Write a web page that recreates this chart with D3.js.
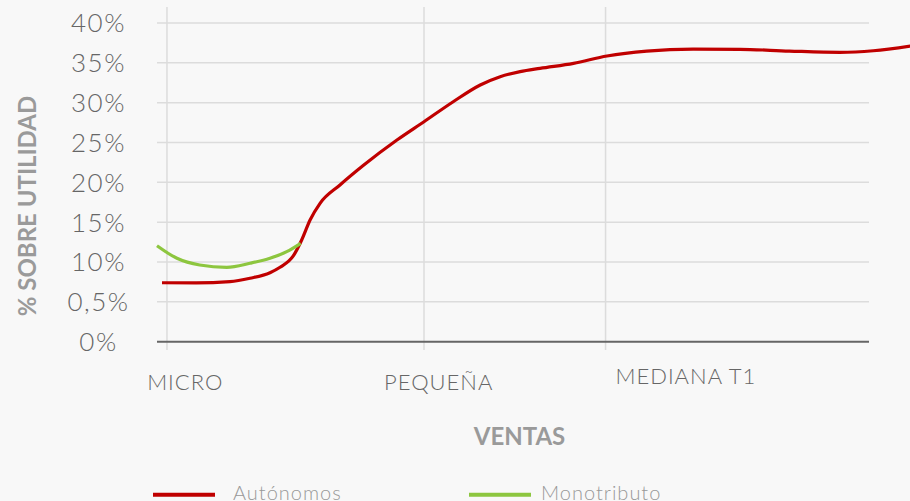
<!DOCTYPE html>
<html>
<head>
<meta charset="utf-8">
<script src="https://cdn.jsdelivr.net/npm/d3@7"></script>
<style>
  body { margin: 0; background: #f8f8f8; }
  svg { display: block; font-family: Lato, "Open Sans", sans-serif; }
  .tick-label { fill: #666; font-weight: 300; }
  .axis-title { fill: #9a9a9a; font-weight: 700; }
  .legend-label { fill: #999; font-weight: 300; }
</style>
</head>
<body>
<svg id="chart" width="910" height="501"></svg>
<script>
// y ticks (label "0,5%" is how the original reads)
const yTicks = [0, 5, 10, 15, 20, 25, 30, 35, 40];
const yTickLabels = ["0%", "0,5%", "10%", "15%", "20%", "25%", "30%", "35%", "40%"];

// x categories: gridline position and label position on the ventas scale (0-100)
const categories = ["MICRO", "PEQUEÑA", "MEDIANA T1"];
const categoryX = [1.4, 37.5, 63];
const categoryLabelX = [3.9, 39.5, 74.2];

// Autónomos
const autonomosX = [0.7, 5.5, 10.25, 13.06, 15.87, 17.28, 19.14, 20.32, 21.5, 22.9, 25.7, 29.0, 33.7, 37.5, 41.6, 45.4, 48.2, 51.0, 53.8, 58.5, 63.2, 68.8, 75.3, 81.9, 88.8, 95.9, 100.6, 105.8];
const autonomosY = [7.40, 7.38, 7.53, 7.96, 8.66, 9.34, 10.76, 12.76, 15.27, 17.37, 19.67, 22.14, 25.31, 27.61, 30.12, 32.22, 33.26, 33.89, 34.31, 34.94, 35.86, 36.48, 36.73, 36.70, 36.48, 36.32, 36.52, 37.11];

// Monotributo
const monoX = [0, 2.8, 6.0, 9.8, 13.06, 15.87, 18.22, 20.18];
const monoY = [12.05, 10.47, 9.63, 9.34, 9.84, 10.47, 11.30, 12.35];

const seriesNames = ["Autónomos", "Monotributo"];
const seriesColors = ["#c00000", "#8dc63f"];

const svg = d3.select("#chart");
const plotLeft = 157, plotRight = 869, plotTop = 23, plotBottom = 341.7;

const x = d3.scaleLinear().domain([0, 100]).range([plotLeft, plotRight]);
const y = d3.scaleLinear().domain([0, 40]).range([plotBottom, plotTop]);

// horizontal grid
svg.append("g").selectAll("line").data(yTicks.slice(1)).join("line")
  .attr("x1", plotLeft).attr("x2", plotRight)
  .attr("y1", d => y(d)).attr("y2", d => y(d))
  .attr("stroke", "#dcdcdc").attr("stroke-width", 1.5);

// vertical grid
svg.append("g").selectAll("line").data(categoryX).join("line")
  .attr("x1", d => x(d)).attr("x2", d => x(d))
  .attr("y1", 7).attr("y2", 350)
  .attr("stroke", "#dcdcdc").attr("stroke-width", 1.5);

// baseline
svg.append("line")
  .attr("x1", plotLeft).attr("x2", plotRight)
  .attr("y1", y(0)).attr("y2", y(0))
  .attr("stroke", "#666").attr("stroke-width", 2);

// y tick labels
svg.append("g").selectAll("text").data(yTicks).join("text")
  .attr("class", "tick-label")
  .attr("x", 98.5).attr("y", d => y(d))
  .attr("dy", "0.36em")
  .attr("text-anchor", "middle")
  .style("font-size", "26px")
  .style("letter-spacing", "1.5px")
  .text((d, i) => yTickLabels[i]);

// x category labels
svg.append("g").selectAll("text").data(categories).join("text")
  .attr("class", "tick-label")
  .attr("x", (d, i) => x(categoryLabelX[i]) + 0.5)
  .attr("y", (d, i) => i === 2 ? 383.5 : 389.5)
  .attr("text-anchor", "middle")
  .style("font-size", "22px")
  .style("letter-spacing", "1px")
  .text(d => d);

// axis titles
svg.append("text").attr("class", "axis-title")
  .attr("transform", "translate(27,206) rotate(-90)")
  .attr("text-anchor", "middle").attr("dy", "0.36em")
  .style("font-size", "24px")
  .text("% SOBRE UTILIDAD");

svg.append("text").attr("class", "axis-title")
  .attr("x", 519.5).attr("y", 445)
  .attr("text-anchor", "middle")
  .style("font-size", "24px")
  .text("VENTAS");

// lines
const line = d3.line()
  .x(d => x(d[0]))
  .y(d => y(d[1]))
  .curve(d3.curveMonotoneX);

const lineData = [
  d3.zip(autonomosX, autonomosY),
  d3.zip(monoX, monoY)
];

svg.append("g").selectAll("path").data(lineData).join("path")
  .attr("d", line)
  .attr("fill", "none")
  .attr("stroke", (d, i) => seriesColors[i])
  .attr("stroke-width", 3.2)
  .attr("stroke-linecap", "butt");

// legend
const legendLineX = [153, 469];
const legendTextX = [233, 541];
const legend = svg.append("g").selectAll("g").data(seriesNames).join("g");
legend.append("line")
  .attr("x1", (d, i) => legendLineX[i]).attr("x2", (d, i) => legendLineX[i] + 62)
  .attr("y1", 494.7).attr("y2", 494.7)
  .attr("stroke", (d, i) => seriesColors[i]).attr("stroke-width", 4);
legend.append("text").attr("class", "legend-label")
  .attr("x", (d, i) => legendTextX[i]).attr("y", 499.5)
  .style("font-size", "20px")
  .style("letter-spacing", "1px")
  .text(d => d);
</script>
</body>
</html>
